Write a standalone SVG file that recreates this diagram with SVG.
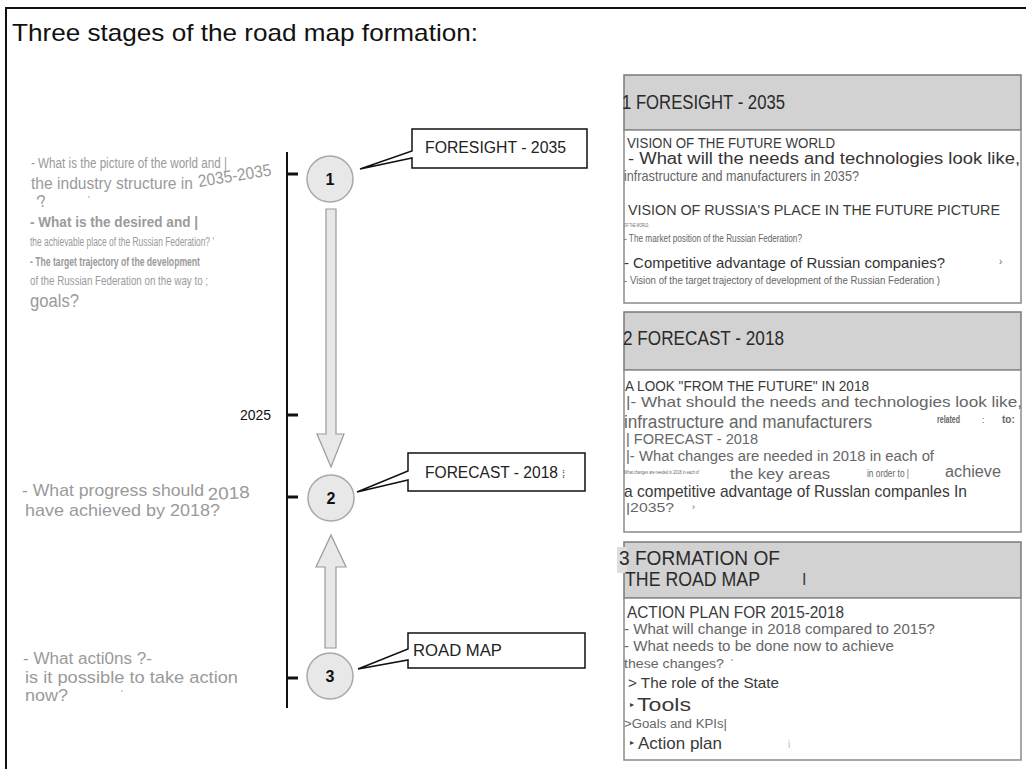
<svg xmlns="http://www.w3.org/2000/svg" width="1026" height="769" viewBox="0 0 1026 769">
  <defs>
    <style>
      text { font-family: "Liberation Sans", Arial, sans-serif; }
      .frame { fill: none; stroke: #111; stroke-width: 2; }
      .axis { fill: none; stroke: #111; stroke-width: 2; }
      .tick { stroke: #111; stroke-width: 3; }
      .node { fill: #e8e8e8; stroke: #a8a8a8; stroke-width: 1.5; }
      .num { font-size: 16px; font-weight: bold; fill: #111; text-anchor: middle; }
      .flow { fill: #e8e8e8; stroke: #9a9a9a; stroke-width: 1.2; }
      .callout { fill: #fff; stroke: #111; stroke-width: 1.5; }
      .ctext { font-size: 16px; fill: #222; }
      .q { fill: #9a9a9a; }
      .hdr { fill: #d2d2d2; stroke: #7a7a7a; stroke-width: 1.5; }
      .body { fill: #fff; stroke: #8a8a8a; stroke-width: 1.5; }
      .htext { font-size: 20px; fill: #2a2a2a; }
      .t { fill: #3a3a3a; }
      .g { fill: #666; }
    </style>
  </defs>

  <rect width="1026" height="769" fill="#fff"/>
  <path class="frame" d="M6,769 V8 H1026"/>

  <text x="12" y="41" font-size="24" fill="#111" textLength="466" lengthAdjust="spacingAndGlyphs">Three stages of the road map formation:</text>

  <!-- timeline, ticks and flow arrows -->
  <g id="connectors">
    <line class="axis" x1="287" y1="152" x2="287" y2="708"/>
    <line class="tick" x1="287" y1="174" x2="298" y2="174"/>
    <line class="tick" x1="287" y1="415" x2="298" y2="415"/>
    <line class="tick" x1="287" y1="497" x2="298" y2="497"/>
    <line class="tick" x1="287" y1="678" x2="298" y2="678"/>
    <text x="240" y="420" font-size="14" fill="#111">2025</text>
    <!-- down arrow 1 -> 2 -->
    <path class="flow" d="M326,209 H336 V434 H344 L331,467 L317,434 H326 Z"/>
    <!-- up arrow 3 -> 2 -->
    <path class="flow" d="M325,648 H336 V567 H346 L331,535 L316,567 H325 Z"/>
  </g>

  <!-- stage 1 -->
  <g id="stage-1">
    <circle class="node" cx="330" cy="179" r="23"/>
    <text class="num" x="330" y="185">1</text>
    <path class="callout" d="M412,129 H587 V168 H412 V158 L360,169 L412,151 Z"/>
    <text class="ctext" x="425" y="153" textLength="141" lengthAdjust="spacingAndGlyphs">FORESIGHT - 2035</text>
  </g>

  <!-- stage 2 -->
  <g id="stage-2">
    <circle class="node" cx="331" cy="498" r="23"/>
    <text class="num" x="331" y="504">2</text>
    <path class="callout" d="M408,453 H585 V491 H408 V480 L357,492 L408,471 Z"/>
    <text class="ctext" x="425" y="478" textLength="133" lengthAdjust="spacingAndGlyphs">FORECAST - 2018</text>
    <text x="562" y="478" font-size="11" fill="#444">⁞</text>
  </g>

  <!-- stage 3 -->
  <g id="stage-3">
    <circle class="node" cx="330" cy="676" r="23"/>
    <text class="num" x="330" y="682">3</text>
    <path class="callout" d="M408,633 H585 V668 H408 V660 L358,669 L408,649 Z"/>
    <text class="ctext" x="413" y="656" textLength="89" lengthAdjust="spacingAndGlyphs">ROAD MAP</text>
  </g>

  <!-- questions on the left -->
  <g id="questions-1" class="q">
    <text x="31" y="168" font-size="14" textLength="196" lengthAdjust="spacingAndGlyphs">- What is the picture of the world and |</text>
    <text x="31" y="189" font-size="17" textLength="162" lengthAdjust="spacingAndGlyphs">the industry structure in</text>
    <text x="0" y="0" font-size="17" transform="translate(199,187) rotate(-9)" textLength="74" lengthAdjust="spacingAndGlyphs">2035-2035</text>
    <text x="37" y="207" font-size="17" transform="rotate(-15 42 202)">?</text>
    <text x="88" y="202" font-size="9">'</text>
    <text x="30" y="227" font-size="15" font-weight="bold" textLength="168" lengthAdjust="spacingAndGlyphs">- What is the desired and |</text>
    <text x="30" y="246" font-size="12" textLength="184" lengthAdjust="spacingAndGlyphs">the achievable place of the Russian Federation? '</text>
    <text x="30" y="266" font-size="12" font-weight="bold" textLength="170" lengthAdjust="spacingAndGlyphs">- The target trajectory of the development</text>
    <text x="30" y="285" font-size="13" textLength="178" lengthAdjust="spacingAndGlyphs">of the Russian Federation on the way to ;</text>
    <text x="30" y="307" font-size="18" textLength="49" lengthAdjust="spacingAndGlyphs">goals?</text>
  </g>

  <g id="questions-2" class="q">
    <text x="22" y="496" font-size="17" textLength="182" lengthAdjust="spacingAndGlyphs">- What progress should</text>
    <text x="0" y="0" font-size="17" transform="translate(208,500) rotate(-3)" textLength="42" lengthAdjust="spacingAndGlyphs">2018</text>
    <text x="25" y="516" font-size="17" textLength="195" lengthAdjust="spacingAndGlyphs">have achieved by 2018?</text>
  </g>

  <g id="questions-3" class="q">
    <text x="23" y="664" font-size="16" textLength="129" lengthAdjust="spacingAndGlyphs">- What acti0ns ?-</text>
    <text x="25" y="683" font-size="17" textLength="213" lengthAdjust="spacingAndGlyphs">is it possible to take action</text>
    <text x="25" y="701" font-size="16" textLength="43" lengthAdjust="spacingAndGlyphs">now?</text>
    <text x="121" y="696" font-size="9">'</text>
  </g>

  <!-- panel 1: foresight -->
  <g id="panel-foresight">
    <rect class="hdr" x="624" y="75" width="397" height="55"/>
    <rect class="body" x="624" y="130" width="397" height="173"/>
    <text class="htext" x="622" y="109" textLength="163" lengthAdjust="spacingAndGlyphs">1 FORESIGHT - 2035</text>
    <text class="t" x="627" y="148" font-size="15" textLength="208" lengthAdjust="spacingAndGlyphs">VISION OF THE FUTURE WORLD</text>
    <text fill="#333" x="628" y="164" font-size="16" textLength="392" lengthAdjust="spacingAndGlyphs"> -  What will the needs and technologies look like,</text>
    <text class="g" x="624" y="181" font-size="15" textLength="235" lengthAdjust="spacingAndGlyphs">infrastructure and manufacturers in 2035?</text>
    <text class="t" x="628" y="215" font-size="15" textLength="372" lengthAdjust="spacingAndGlyphs">VISION OF RUSSIA'S PLACE IN THE FUTURE PICTURE</text>
    <text class="g" x="624" y="227" font-size="6" textLength="26" lengthAdjust="spacingAndGlyphs">OF THE WORLD ,</text>
    <text class="g" x="624" y="242" font-size="11" textLength="178" lengthAdjust="spacingAndGlyphs">- The market position of the Russian Federation?</text>
    <text fill="#333" x="624" y="268" font-size="15" textLength="321" lengthAdjust="spacingAndGlyphs">- Competitive advantage of Russian companies?</text>
    <text class="g" x="999" y="265" font-size="10">›</text>
    <text class="g" x="624" y="284" font-size="11" textLength="316" lengthAdjust="spacingAndGlyphs">- Vision of the target trajectory of development of the Russian Federation )</text>
  </g>

  <!-- panel 2: forecast -->
  <g id="panel-forecast">
    <rect class="hdr" x="624" y="312" width="397" height="58"/>
    <rect class="body" x="624" y="370" width="397" height="162"/>
    <text class="htext" x="623" y="345" textLength="161" lengthAdjust="spacingAndGlyphs">2 FORECAST - 2018</text>
    <text class="t" x="625" y="391" font-size="15" textLength="244" lengthAdjust="spacingAndGlyphs">A LOOK "FROM THE FUTURE" IN 2018</text>
    <text class="g" x="626" y="407" font-size="15" textLength="396" lengthAdjust="spacingAndGlyphs">|- What should the needs and technologies look like,</text>
    <text class="g" x="624" y="428" font-size="18" textLength="248" lengthAdjust="spacingAndGlyphs">infrastructure and manufacturers</text>
    <text class="g" x="937" y="423" font-size="10" font-weight="bold" textLength="23" lengthAdjust="spacingAndGlyphs">related</text>
    <text class="g" x="982" y="423" font-size="9">:</text>
    <text class="g" x="1002" y="423" font-size="10" font-weight="bold">to:</text>
    <text class="g" x="626" y="444" font-size="15" textLength="132" lengthAdjust="spacingAndGlyphs">| FORECAST - 2018</text>
    <text class="g" x="626" y="461" font-size="14" textLength="308" lengthAdjust="spacingAndGlyphs">|- What changes are needed in 2018 in each of</text>
    <text class="g" x="624" y="474" font-size="5" textLength="75" lengthAdjust="spacingAndGlyphs">What changes are needed in 2018 in each of</text>
    <text class="g" x="730" y="479" font-size="15" textLength="100" lengthAdjust="spacingAndGlyphs">the key areas</text>
    <text class="g" x="867" y="477" font-size="10" textLength="42" lengthAdjust="spacingAndGlyphs">in order to |</text>
    <text class="g" x="945" y="477" font-size="16" textLength="56" lengthAdjust="spacingAndGlyphs">achieve</text>
    <text class="t" x="624" y="497" font-size="17" textLength="343" lengthAdjust="spacingAndGlyphs">a competitive advantage of Russlan companles In</text>
    <text class="g" x="626" y="512" font-size="13" textLength="48" lengthAdjust="spacingAndGlyphs">|2035?</text>
    <text class="g" x="692" y="510" font-size="9">›</text>
  </g>

  <!-- panel 3: road map formation -->
  <g id="panel-roadmap">
    <rect class="hdr" x="624" y="542" width="397" height="56"/>
    <rect class="body" x="624" y="598" width="397" height="162"/>
    <rect x="617" y="547" width="10" height="26" fill="#dedede"/>
    <text class="htext" x="619" y="565" font-size="19" textLength="161" lengthAdjust="spacingAndGlyphs">3 FORMATION OF</text>
    <text class="htext" x="625" y="586" font-size="17" textLength="135" lengthAdjust="spacingAndGlyphs">THE ROAD MAP</text>
    <text class="t" x="802" y="585" font-size="16">I</text>
    <text class="t" x="627" y="618" font-size="16" textLength="217" lengthAdjust="spacingAndGlyphs">ACTION PLAN FOR 2015-2018</text>
    <text class="g" x="624" y="634" font-size="14" textLength="311" lengthAdjust="spacingAndGlyphs">- What will change in 2018 compared to 2015?</text>
    <text class="g" x="624" y="651" font-size="15" textLength="270" lengthAdjust="spacingAndGlyphs">- What needs to be done now to achieve</text>
    <text class="g" x="624" y="668" font-size="13" textLength="100" lengthAdjust="spacingAndGlyphs">these changes?</text>
    <text class="g" x="731" y="665" font-size="9">'</text>
    <text class="t" x="628" y="688" font-size="15" textLength="151" lengthAdjust="spacingAndGlyphs">&gt; The role of the State</text>
    <text class="t" x="630" y="707" font-size="8">▸</text>
    <text class="t" x="637" y="711" font-size="18" textLength="54" lengthAdjust="spacingAndGlyphs">Tools</text>
    <text class="g" x="624" y="728" font-size="12" textLength="103" lengthAdjust="spacingAndGlyphs">&gt;Goals and KPIs|</text>
    <text class="t" x="630" y="745" font-size="8">▸</text>
    <text class="t" x="638" y="749" font-size="17" textLength="84" lengthAdjust="spacingAndGlyphs">Action plan</text>
    <text fill="#bbb" x="788" y="748" font-size="10">i</text>
  </g>
</svg>
